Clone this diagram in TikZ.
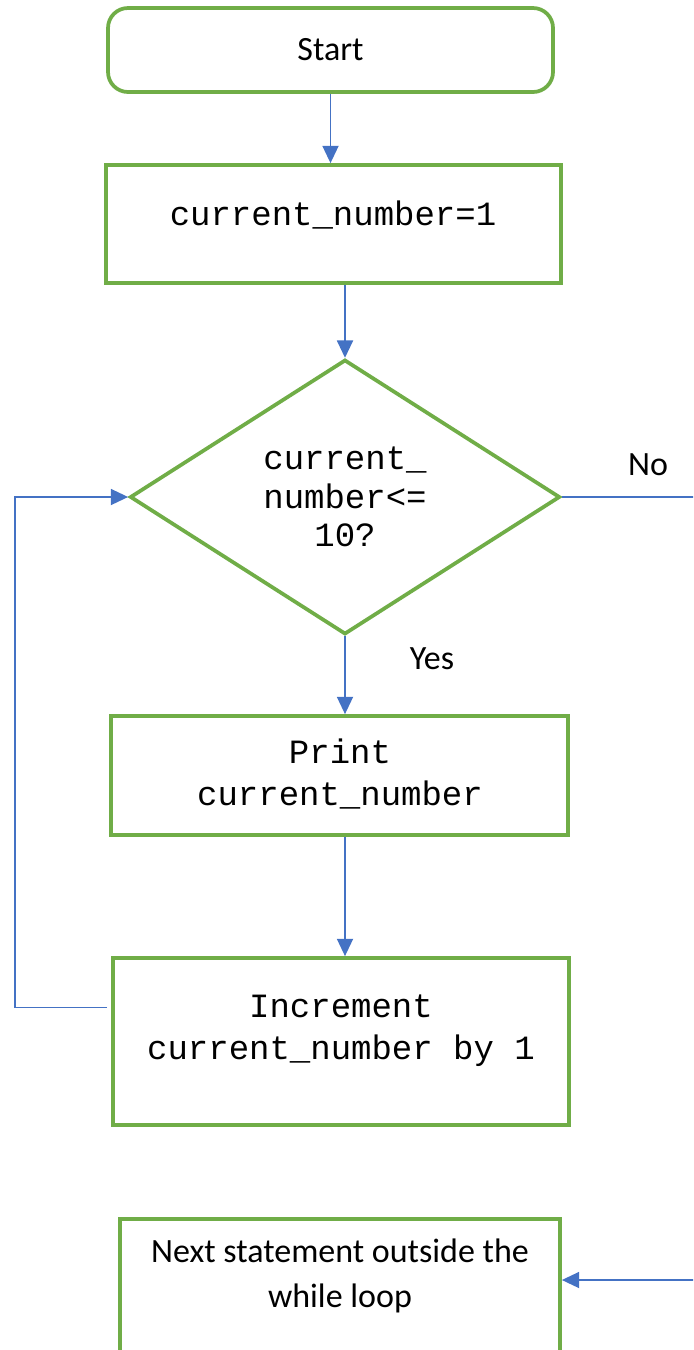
\documentclass[tikz,border=0pt]{standalone}
\usepackage{fontspec}
\setmainfont{Carlito}
\newfontfamily\codefont{Liberation Mono}
\usetikzlibrary{shapes.geometric,arrows.meta,calc}
\definecolor{boxgreen}{RGB}{112,173,71}
\definecolor{linkblue}{RGB}{68,114,196}

\begin{document}
\begin{tikzpicture}[x=0.75pt,y=-0.75pt,
  shapebox/.style={draw=boxgreen,line width=2.8pt,inner sep=0pt,fill=white},
  terminal/.style={shapebox,rectangle,rounded corners=15pt},
  process/.style={shapebox,rectangle},
  decision/.style={shapebox,diamond,aspect=1.56,minimum width=322.5pt,minimum height=206pt},
  code/.style={font=\codefont\fontsize{25.5pt}{31.5pt}\selectfont,align=center,inner sep=0pt},
  diamondcode/.style={font=\codefont\fontsize{25.5pt}{29pt}\selectfont,align=center},
  prose/.style={font=\fontsize{25.5pt}{34pt}\selectfont,align=center,inner sep=0pt},
  flow/.style={draw=linkblue,line width=1.4pt,-{Triangle[length=13pt,width=12pt]}}]

% canvas
\useasboundingbox (0,0) rectangle (693,1350);
\clip (0,0) rectangle (693,1350);

% shapes
\node[terminal,minimum width=333.75pt,minimum height=63pt,font=\fontsize{25.5pt}{30pt}\selectfont]
  (start) at (330.5,50) {Start};
\node[process,minimum width=341.25pt,minimum height=88.5pt] (init) at (333.5,224) {};
\node[code] (init-t) at (333,215) {current\_number=1};

\node[decision,diamondcode] (dec) at (345,497) {current\_\\number<=\\10?};

\node[process,minimum width=342.75pt,minimum height=89.25pt] (print) at (339.5,775.5) {};
\node[code] (print-t) at (340,774) {Print\\current\_number};

\node[process,minimum width=342pt,minimum height=125.25pt] (inc) at (341,1041.5) {};
\node[code] (inc-t) at (341,1031) {Increment\\current\_number by 1};

\node[process,minimum width=330pt,minimum height=150pt] (next) at (340,1319) {};
\node[prose] (next-t) at (340,1276) {Next statement outside the\\while loop};

% branch labels
\node[prose] (no) at (648,465) {No};
\node[prose] (yes) at (432,659) {Yes};

% routing points of the side connectors
\coordinate (loop) at (15,0);
\coordinate (out) at (700,1280);

% connectors
\draw[flow] (start.south) -- (start.south |- init.north);
\draw[flow] (dec.north |- init.south) -- (dec.north);
\draw[flow] (dec.south) -- (dec.south |- print.north);
\draw[flow] (dec.south |- print.south) -- (dec.south |- inc.north);
\draw[flow] ($(inc.west)+(-4,-34)$) -| (loop |- dec.west) -- (dec.west);
\draw[flow] (dec.east) -| (out) -- (next.east |- out);
\end{tikzpicture}
\end{document}
